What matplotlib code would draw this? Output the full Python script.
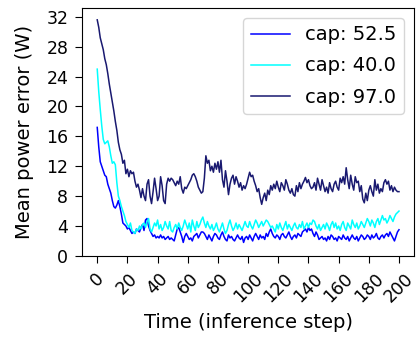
import matplotlib
matplotlib.use("Agg")
import matplotlib.pyplot as plt
import numpy as np

steps = list(range(201))

cap_97 = [
    31.6, 30.6, 29.2, 28.4, 27.6, 26.4, 25.6, 24.4, 23.0, 21.8,
    20.6, 19.4, 18.0, 16.8, 15.2, 14.2, 13.6, 12.4, 12.8, 11.0,
    11.6, 10.6, 11.4, 11.0, 11.2, 10.0, 9.2, 9.6, 8.8, 7.8,
    9.0, 8.0, 7.4, 9.6, 10.2, 8.0, 7.0, 8.6, 10.4, 9.0,
    7.4, 8.0, 10.6, 9.4, 7.4, 7.0, 9.6, 10.4, 10.0, 10.4,
    10.2, 9.8, 9.4, 10.0, 9.6, 10.6, 9.0, 8.4, 9.2, 9.0,
    9.4, 9.8, 10.2, 10.8, 11.0, 10.6, 10.0, 9.2, 8.8, 8.4,
    8.6, 10.4, 13.4, 12.4, 12.8, 11.4, 12.0, 11.2, 12.4, 11.6,
    12.6, 11.2, 12.8, 10.2, 9.2, 11.4, 10.0, 8.2, 9.6, 10.4,
    10.8, 9.6, 10.6, 10.0, 9.2, 9.8, 8.8, 9.4, 9.0, 9.6,
    10.4, 11.2, 10.6, 10.8, 10.0, 9.4, 8.6, 9.0, 7.8, 6.9,
    7.8, 8.4, 7.4, 8.8, 8.2, 9.4, 8.8, 9.6, 9.0, 10.0,
    9.2, 8.6, 9.8, 9.4, 8.8, 10.2, 9.6, 8.8, 8.4, 9.0,
    8.2, 8.0, 9.4, 8.6, 9.8, 9.0, 9.6, 10.0, 10.5, 9.8,
    10.2, 9.4, 9.0, 9.2, 9.8, 8.8, 10.4, 9.6, 8.8, 10.2,
    9.4, 8.6, 9.2, 8.4, 9.8, 9.0, 8.6, 9.6, 10.0, 9.2,
    8.8, 10.4, 9.8, 10.6, 9.6, 11.8, 10.2, 9.0, 10.8, 9.6,
    8.8, 10.6, 9.8, 10.0, 8.6, 9.4, 7.6, 7.1, 8.4, 7.4,
    8.8, 9.4, 8.6, 8.0, 10.2, 8.8, 9.6, 8.4, 9.0, 8.6,
    9.8, 10.2, 9.6, 10.0, 8.8, 9.4, 8.6, 9.2, 8.8, 8.6,
    8.6,
]

cap_40 = [
    25.0, 22.0, 19.6, 17.4, 15.6, 15.0, 15.2, 15.4, 14.6, 13.4,
    12.4, 12.6, 12.2, 9.8, 8.0, 7.4, 6.6, 6.0, 5.4, 4.6,
    4.2, 3.8, 4.4, 3.4, 3.2, 3.0, 3.6, 3.4, 4.0, 3.6,
    4.2, 4.4, 3.8, 4.6, 5.0, 3.6, 3.2, 3.8, 4.4, 4.0,
    4.8, 3.6, 4.2, 3.4, 3.8, 4.6, 4.0, 3.6, 4.6, 3.4,
    3.2, 3.8, 4.2, 3.6, 4.4, 3.8, 3.4, 4.0, 4.8, 4.2,
    3.6, 4.4, 3.2, 4.8, 4.0, 3.4, 4.6, 3.8, 4.2, 4.8,
    5.2, 4.4, 3.8, 4.6, 4.0, 3.6, 4.2, 3.4, 3.8, 4.4,
    3.6, 3.2, 3.8, 4.4, 3.6, 3.0, 3.4, 4.2, 4.8, 4.0,
    3.4, 3.8, 4.4, 3.6, 4.2, 3.8, 3.4, 4.0, 4.6, 4.0,
    3.8, 4.6, 4.0, 3.6, 4.2, 4.8, 4.4, 3.8, 4.2, 4.6,
    4.0, 4.4, 4.8, 4.6, 4.2, 3.8, 4.0, 3.6, 3.2, 4.2,
    3.6, 4.4, 3.8, 3.4, 4.0, 4.6, 3.6, 4.2, 3.8, 3.4,
    4.0, 4.4, 3.8, 3.6, 4.2, 3.8, 4.6, 3.6, 4.0, 4.4,
    3.8, 4.4, 4.2, 4.8, 4.6, 4.0, 3.6, 4.2, 3.4, 3.8,
    4.2, 3.6, 4.4, 4.0, 3.4, 4.2, 4.6, 3.8, 4.4, 3.6,
    4.0, 3.4, 4.2, 4.6, 3.8, 3.4, 4.4, 4.0, 3.6, 4.8,
    4.2, 3.8, 4.4, 3.6, 4.0, 4.6, 4.2, 3.8, 4.4, 5.0,
    4.6, 4.0, 4.8, 4.4, 3.8, 4.6, 5.0, 4.2, 4.8, 5.4,
    4.8, 5.0, 4.4, 4.8, 5.4, 5.0, 4.6, 5.2, 5.6, 5.8,
    6.0,
]

cap_52_5 = [
    17.2, 14.6, 12.6, 12.0, 11.4, 10.8, 10.6, 9.6, 9.0, 8.4,
    7.4, 6.6, 6.4, 6.8, 7.4, 6.6, 5.6, 4.4, 4.2, 4.0,
    3.6, 3.8, 3.4, 3.0, 3.2, 3.0, 3.6, 3.4, 3.2, 3.8,
    4.2, 3.4, 4.8, 5.0, 4.0, 3.4, 3.0, 2.6, 2.8, 2.4,
    2.6, 2.4, 2.8, 2.4, 2.6, 2.2, 2.4, 2.6, 2.2, 2.4,
    2.2, 2.0, 2.8, 3.6, 3.8, 3.2, 2.6, 1.8, 2.6, 3.0,
    2.6, 2.2, 2.4, 2.0, 2.6, 2.8, 3.0, 2.4, 2.8, 3.2,
    3.2, 3.0, 2.6, 2.2, 2.8, 2.4, 2.0, 2.6, 3.0, 2.8,
    2.4, 2.2, 2.8, 3.2, 2.6, 2.2, 2.0, 2.8, 2.4, 2.6,
    2.2, 2.0, 2.4, 2.8, 2.4, 2.2, 2.6, 1.8, 2.4, 2.6,
    2.2, 2.8, 2.4, 2.0, 2.6, 3.0, 2.6, 2.2, 2.8, 2.4,
    2.6, 2.2, 3.0, 2.6, 3.2, 3.6, 3.0, 2.6, 2.4, 2.8,
    2.6, 2.2, 2.8, 3.0, 2.6, 2.4, 2.8, 3.2, 2.6, 2.2,
    2.6, 2.8, 2.4, 3.0, 2.8, 2.6, 3.2, 3.4, 3.6, 3.2,
    3.8, 3.4, 3.6, 3.0, 2.6, 3.2, 2.8, 2.2, 2.4, 2.6,
    2.2, 2.4, 2.0, 2.6, 2.2, 2.8, 2.6, 2.2, 2.4, 2.0,
    2.6, 2.4, 2.2, 2.8, 2.4, 2.2, 2.6, 2.0, 2.4, 2.8,
    2.4, 2.2, 2.6, 2.0, 2.4, 2.8, 2.6, 2.2, 2.4, 2.8,
    2.6, 2.2, 2.8, 2.4, 2.6, 3.0, 2.4, 2.2, 2.6, 2.8,
    2.4, 2.8, 3.0, 2.6, 3.2, 2.8, 2.4, 2.0, 2.6, 3.2,
    3.5,
]

labels = ["cap: 52.5", "cap: 40.0", "cap: 97.0"]
colors = ["blue", "cyan", "midnightblue"]
yticks = [0, 4, 8, 12, 16, 20, 24, 28, 32]
xticks = [0, 20, 40, 60, 80, 100, 120, 140, 160, 180, 200]

fig = plt.figure(figsize=(4.17, 3.43), dpi=100)
ax = fig.add_axes([0.197, 0.254, 0.796, 0.723])
for series, lab, col in zip([cap_52_5, cap_40, cap_97], labels, colors):
    ax.plot(steps, series, color=col, label=lab, linewidth=1.1)

ax.set_xlim(-10, 210)
ax.set_ylim(0, 33.2)
ax.set_yticks(yticks)
ax.set_xticks(xticks)
ax.tick_params(axis="both", labelsize=12.5, length=5, pad=5)
plt.setp(ax.get_xticklabels(), rotation=45)
ax.set_xlabel("Time (inference step)", fontsize=14, labelpad=5)
ax.set_ylabel("Mean power error (W)", fontsize=14, labelpad=9)
ax.legend(loc="upper right", fontsize=14, labelspacing=0.62)
fig.savefig("out.png", dpi=100)
